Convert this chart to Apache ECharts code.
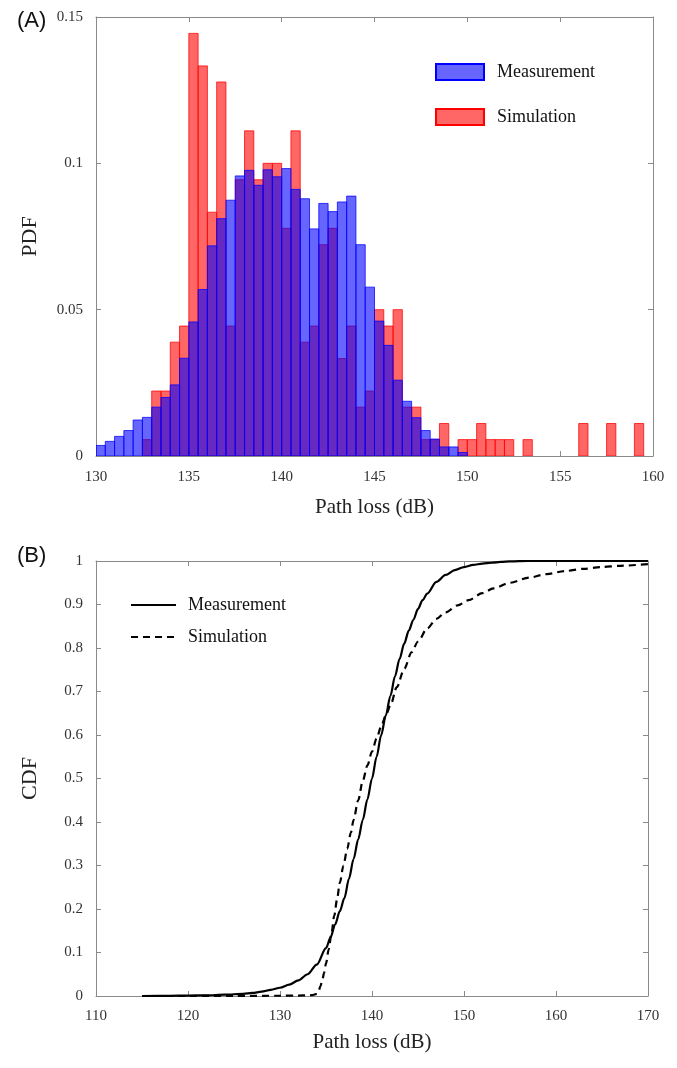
<!DOCTYPE html>
<html>
<head>
<meta charset="utf-8">
<script src="https://cdn.jsdelivr.net/npm/echarts@6/dist/echarts.min.js"></script>
<style>
  html, body { margin: 0; padding: 0; background: #fff; }
  #chart { width: 677px; height: 1068px; }
</style>
</head>
<body>
<div id="chart"></div>
<script>
// (A) histogram: bins of 0.5 dB starting at 130 dB
var binStart = 130;
var binWidth = 0.5;
var pdfMeas = [0.0036, 0.0050, 0.0067, 0.0087, 0.0123, 0.0132, 0.0167, 0.0200, 0.0243, 0.0334,
  0.0458, 0.0569, 0.0718, 0.0811, 0.0874, 0.0957, 0.0976, 0.0925, 0.0978, 0.0954,
  0.0982, 0.0911, 0.0879, 0.0776, 0.0863, 0.0835, 0.0868, 0.0888, 0.0722, 0.0577,
  0.0461, 0.0378, 0.0259, 0.0187, 0.0131, 0.0087, 0.0058, 0.0031, 0.0031, 0.0012];
var pdfSim = [0, 0, 0, 0, 0, 0.0056, 0.0222, 0.0222, 0.0389, 0.0444,
  0.1444, 0.1333, 0.0833, 0.1278, 0.0444, 0.0944, 0.1111, 0.0944, 0.1000, 0.1000,
  0.0778, 0.1111, 0.0389, 0.0444, 0.0722, 0.0778, 0.0333, 0.0444, 0.0167, 0.0222,
  0.0500, 0.0444, 0.0500, 0.0167, 0.0167, 0.0056, 0.0056, 0.0111, 0, 0.0056,
  0.0056, 0.0111, 0.0056, 0.0056, 0.0056, 0, 0.0056, 0, 0, 0,
  0, 0, 0.0111, 0, 0, 0.0111, 0, 0, 0.0111, 0];

// (B) CDF curves
var cdfMeasX = [115, 118, 120, 122, 124, 126, 127, 128, 129, 130, 131, 132, 133, 134, 135, 135.5, 136, 136.5, 137, 137.5,
  138, 138.5, 139, 139.5, 140, 140.5, 141, 141.5, 142, 142.5, 143, 143.5, 144, 144.5, 145, 145.5, 146, 147, 148, 149,
  150, 151, 152, 153, 154, 155, 157, 160, 165, 170];
var cdfMeasY = [0, 0.0005, 0.001, 0.0015, 0.003, 0.005, 0.007, 0.010, 0.014, 0.019, 0.026, 0.036, 0.050, 0.072, 0.110, 0.135, 0.165, 0.195, 0.225, 0.270,
  0.315, 0.360, 0.405, 0.452, 0.500, 0.550, 0.600, 0.645, 0.690, 0.735, 0.775, 0.810, 0.840, 0.865, 0.890, 0.910, 0.925, 0.952, 0.968, 0.979,
  0.986, 0.991, 0.994, 0.996, 0.998, 0.999, 1, 1, 1, 1];
var cdfSimX = [115, 120, 125, 130, 132, 133, 133.5, 134, 134.2, 134.4, 134.6, 134.8, 135, 135.3, 135.6, 135.9, 136.2, 136.5, 136.9, 137.3,
  137.7, 138, 138.5, 139, 139.5, 140, 140.5, 141, 141.5, 142, 142.7, 143.5, 144.3, 145, 146, 147, 148, 149.3, 150.5, 152,
  153.2, 155, 157.1, 159, 161, 163, 164.9, 167, 170];
var cdfSimY = [0, 0, 0.0003, 0.0006, 0.001, 0.0015, 0.002, 0.005, 0.012, 0.023, 0.037, 0.054, 0.075, 0.108, 0.145, 0.185, 0.222, 0.260, 0.300, 0.338,
  0.375, 0.405, 0.450, 0.495, 0.530, 0.562, 0.592, 0.620, 0.645, 0.668, 0.710, 0.752, 0.790, 0.815, 0.845, 0.867, 0.882, 0.898, 0.910, 0.926,
  0.937, 0.950, 0.962, 0.970, 0.977, 0.982, 0.986, 0.989, 0.993];

var serif = '"Liberation Serif", "Times New Roman", serif';
var sans = '"Liberation Sans", Arial, sans-serif';
var axisGrey = '#8a8a8a';
var labelColor = '#333';

function toBins(arr) {
  var out = [];
  for (var i = 0; i < arr.length; i++) {
    if (arr[i] > 0) out.push([binStart + i * binWidth, arr[i]]);
  }
  return out;
}
function toPairs(xs, ys) {
  return xs.map(function (x, i) { return [x, ys[i]]; });
}
function barRenderer(fill, stroke) {
  return function (params, api) {
    var x0 = api.value(0);
    var h = api.value(1);
    var p0 = api.coord([x0, h]);
    var p1 = api.coord([x0 + binWidth, 0]);
    return {
      type: 'rect',
      shape: { x: p0[0], y: p0[1], width: p1[0] - p0[0], height: p1[1] - p0[1] },
      style: { fill: fill, stroke: stroke, lineWidth: 1 }
    };
  };
}

var mainX = function (grid, min, max, interval, name, nameGap, margin) {
  return {
    type: 'value', gridIndex: grid, min: min, max: max, interval: interval,
    position: 'bottom',
    name: name, nameLocation: 'middle', nameGap: nameGap,
    nameTextStyle: { fontFamily: serif, fontSize: 21, color: '#222' },
    axisLine: { show: true, onZero: false, lineStyle: { color: axisGrey, width: 1 } },
    axisTick: { show: true, inside: true, length: 5, lineStyle: { color: axisGrey } },
    axisLabel: { fontFamily: serif, fontSize: 15, color: labelColor, margin: margin },
    splitLine: { show: false }
  };
};
var sideX = function (grid, min, max, interval) {
  return {
    type: 'value', gridIndex: grid, min: min, max: max, interval: interval,
    position: 'top',
    axisLine: { show: true, onZero: false, lineStyle: { color: axisGrey, width: 1 } },
    axisTick: { show: true, inside: true, length: 5, lineStyle: { color: axisGrey } },
    axisLabel: { show: false },
    splitLine: { show: false }
  };
};
var mainY = function (grid, min, max, interval, name, nameGap) {
  return {
    type: 'value', gridIndex: grid, min: min, max: max, interval: interval,
    position: 'left',
    name: name, nameLocation: 'middle', nameGap: nameGap, nameRotate: 90,
    nameTextStyle: { fontFamily: serif, fontSize: 22, color: '#222' },
    axisLine: { show: true, onZero: false, lineStyle: { color: axisGrey, width: 1 } },
    axisTick: { show: true, inside: true, length: 5, lineStyle: { color: axisGrey } },
    axisLabel: { fontFamily: serif, fontSize: 15, color: labelColor, margin: 13 },
    splitLine: { show: false }
  };
};
var sideY = function (grid, min, max, interval) {
  return {
    type: 'value', gridIndex: grid, min: min, max: max, interval: interval,
    position: 'right',
    axisLine: { show: true, onZero: false, lineStyle: { color: axisGrey, width: 1 } },
    axisTick: { show: true, inside: true, length: 5, lineStyle: { color: axisGrey } },
    axisLabel: { show: false },
    splitLine: { show: false }
  };
};

var chart = echarts.init(document.getElementById('chart'), null, { renderer: 'canvas' });
var option = {
  animation: false,
  backgroundColor: '#fff',
  title: [
    { text: '(A)', left: 12, top: 5, textStyle: { fontFamily: sans, fontSize: 22, fontWeight: 'normal', color: '#111' } },
    { text: '(B)', left: 12, top: 540, textStyle: { fontFamily: sans, fontSize: 22, fontWeight: 'normal', color: '#111' } }
  ],
  grid: [
    { left: 96, top: 17, width: 557, height: 439 },
    { left: 96, top: 561, width: 552, height: 435 }
  ],
  legend: [
    {
      left: 435, top: 63, padding: 0, orient: 'vertical', itemWidth: 48, itemHeight: 16, itemGap: 27,
      textStyle: { fontFamily: serif, fontSize: 18, color: '#111', padding: [0, 0, 0, 8] },
      data: [
        { name: 'Measurement', icon: 'rect', itemStyle: { color: 'rgba(0,0,255,0.6)', borderColor: '#0000ff', borderWidth: 2 } },
        { name: 'Simulation', icon: 'rect', itemStyle: { color: 'rgba(255,0,0,0.6)', borderColor: '#ff0000', borderWidth: 2 } }
      ]
    },
    {
      left: 130, top: 596, padding: 0, orient: 'vertical', itemWidth: 45, itemHeight: 14, itemGap: 14,
      textStyle: { fontFamily: serif, fontSize: 18, color: '#111', padding: [0, 0, 0, 7] },
      itemStyle: { opacity: 0 },
      data: [
        { name: 'Measurement ', itemStyle: { opacity: 0 } },
        { name: 'Simulation ', itemStyle: { opacity: 0 } }
      ]
    }
  ],
  xAxis: [
    mainX(0, 130, 160, 5, 'Path loss (dB)', 41, 14),
    sideX(0, 130, 160, 5),
    mainX(1, 110, 170, 10, 'Path loss (dB)', 36, 13),
    sideX(1, 110, 170, 10)
  ],
  yAxis: [
    mainY(0, 0, 0.15, 0.05, 'PDF', 55),
    sideY(0, 0, 0.15, 0.05),
    mainY(1, 0, 1, 0.1, 'CDF', 55),
    sideY(1, 0, 1, 0.1)
  ],
  series: [
    {
      name: 'Simulation', type: 'custom', xAxisIndex: 0, yAxisIndex: 0, clip: true,
      itemStyle: { color: 'rgba(255,0,0,0.6)' },
      renderItem: barRenderer('rgba(255,0,0,0.6)', 'rgba(255,0,0,0.75)'),
      encode: { x: 0, y: 1 },
      data: toBins(pdfSim)
    },
    {
      name: 'Measurement', type: 'custom', xAxisIndex: 0, yAxisIndex: 0, clip: true,
      itemStyle: { color: 'rgba(0,0,255,0.6)' },
      renderItem: barRenderer('rgba(0,0,255,0.6)', 'rgba(0,0,255,0.75)'),
      encode: { x: 0, y: 1 },
      data: toBins(pdfMeas)
    },
    {
      name: 'Measurement ', type: 'line', xAxisIndex: 2, yAxisIndex: 2,
      showSymbol: false, symbol: 'none', smooth: 0.3, smoothMonotone: 'x',
      lineStyle: { color: '#000', width: 2.2 }, itemStyle: { color: '#000' },
      data: toPairs(cdfMeasX, cdfMeasY)
    },
    {
      name: 'Simulation ', type: 'line', xAxisIndex: 2, yAxisIndex: 2,
      showSymbol: false, symbol: 'none', smooth: 0.3, smoothMonotone: 'x',
      lineStyle: { color: '#000', width: 2.2, type: [7, 5] }, itemStyle: { color: '#000' },
      data: toPairs(cdfSimX, cdfSimY)
    }
  ]
};
chart.setOption(option);
</script>
</body>
</html>
